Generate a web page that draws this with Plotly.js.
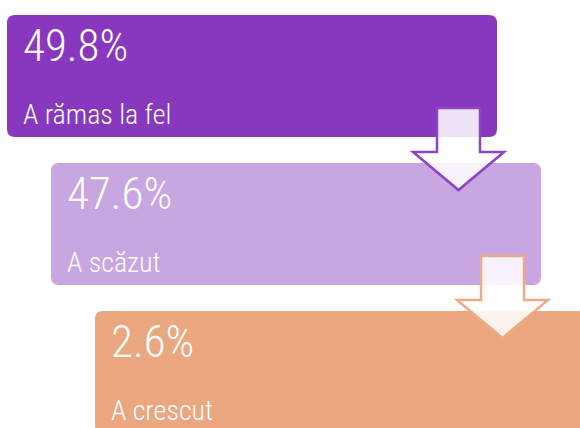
<!DOCTYPE html>
<html>
<head>
<meta charset="utf-8">
<script src="https://cdn.plot.ly/plotly-3.0.1.min.js"></script>
<style>html,body{margin:0;padding:0;background:#fff;}#chart{width:580px;height:428px;}</style>
</head>
<body>
<div id="chart"></div>
<script>
const categories = ['A rămas la fel', 'A scăzut', 'A crescut'];
const values = [49.8, 47.6, 2.6];
const boxColors = ['#8838BE', '#C8A6E2', '#EBA77F'];
const arrowColors = ['#8F42C4', '#EDAA85'];

const W = 580, H = 428;
const boxW = 490, boxH = 122, stepX = 44, stepY = 148, x0 = 7, y0 = 15, r = 8;
const font = 'Roboto Condensed, Liberation Sans Narrow, sans-serif';

function roundRect(x, y, w, h, rad) {
  return `M${x+rad},${y} L${x+w-rad},${y} Q${x+w},${y} ${x+w},${y+rad} L${x+w},${y+h-rad} Q${x+w},${y+h} ${x+w-rad},${y+h} L${x+rad},${y+h} Q${x},${y+h} ${x},${y+h-rad} L${x},${y+rad} Q${x},${y} ${x+rad},${y} Z`;
}
function arrowPath(cx, top, base, tip, sw, hw) {
  return `M${cx-sw},${top} L${cx+sw},${top} L${cx+sw},${base} L${cx+hw},${base} L${cx},${tip} L${cx-hw},${base} L${cx-sw},${base} Z`;
}

const shapes = [];
const annotations = [];
values.forEach((v, i) => {
  const bx = x0 + stepX * i, by = y0 + stepY * i;
  shapes.push({type: 'path', xref: 'x', yref: 'y', path: roundRect(bx, by, boxW, boxH, r),
    fillcolor: boxColors[i], line: {width: 0}, layer: 'below'});
  annotations.push({x: bx + 14, y: by + 30, xref: 'x', yref: 'y', xanchor: 'left', yanchor: 'middle',
    text: v.toFixed(1) + '%', showarrow: false, font: {family: font, size: 45, weight: 300, color: '#ffffff'}});
  annotations.push({x: bx + 14, y: by + 99, xref: 'x', yref: 'y', xanchor: 'left', yanchor: 'middle',
    text: categories[i], showarrow: false, font: {family: font, size: 28, weight: 300, color: '#ffffff'}});
});
arrowColors.forEach((c, i) => {
  const right = x0 + stepX * i + boxW, bottom = y0 + stepY * i + boxH;
  shapes.push({type: 'path', xref: 'x', yref: 'y',
    path: arrowPath(right - 38.5, bottom - 29, bottom + 15, bottom + 53, 21.5, 45.5),
    fillcolor: 'rgba(255,255,255,0.86)', line: {color: c, width: 2.5}, layer: 'above'});
});

const layout = {
  width: W, height: H, margin: {l: 0, r: 0, t: 0, b: 0},
  paper_bgcolor: '#ffffff', plot_bgcolor: '#ffffff',
  xaxis: {range: [0, W], visible: false, fixedrange: true},
  yaxis: {range: [H, 0], visible: false, fixedrange: true},
  showlegend: false, shapes: shapes, annotations: annotations
};
Plotly.newPlot('chart', [{x: [], y: [], type: 'scatter', mode: 'markers', hoverinfo: 'skip'}], layout,
  {displayModeBar: false, staticPlot: true});
</script>
</body>
</html>
